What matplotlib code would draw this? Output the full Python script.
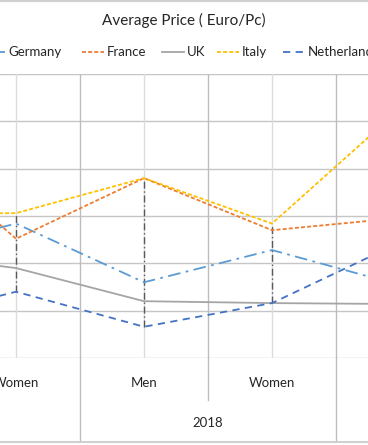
import matplotlib
matplotlib.use("Agg")
import matplotlib.pyplot as plt
from matplotlib.lines import Line2D
from matplotlib.patches import Rectangle

plt.rcParams['font.family'] = ['Lato', 'DejaVu Sans']

# Category sequence (only part of the chart is visible)
categories = ["Men", "Women", "Men", "Women", "Men"]
years = ["2017", "2017", "2018", "2018", "2019"]

# Average price per series (Euro/Pc)
germany = [10.8, 14.2, 8.0, 11.4, 7.7]
france = [24.4, 12.6, 19.0, 13.5, 14.8]
uk = [11.2, 9.5, 6.0, 5.8, 5.7]
italy = [15.2, 15.3, 19.0, 14.2, 26.3]
netherlands = [3.6, 7.0, 3.3, 5.8, 12.2]

series_names = ["Germany", "France", "UK", "Italy", "Netherlands"]
series_data = [germany, france, uk, italy, netherlands]
colors = ["#5B9BD5", "#ED7D31", "#A5A5A5", "#FFC000", "#4472C4"]
styles = [(0, (7, 3, 1.5, 3)), (0, (2.2, 1.2)), "-", (0, (2.2, 1.2)), (0, (4, 3))]

W, H = 368, 445
fig = plt.figure(figsize=(W / 100, H / 100), dpi=100)

# plot area in pixel terms: top 74, bottom 358, full width
ax = fig.add_axes([0, (H - 358) / H, 1, (358 - 74) / H])
ax.set_xlim(0.875, 3.75)
ax.set_ylim(0, 30)

grid_color = "#C6C6C6"
for yv in range(0, 31, 5):
    ax.axhline(yv, color=grid_color, lw=1.0, zorder=1)
# light lines at category centres, darker lines on category boundaries
for i in range(len(categories)):
    ax.axvline(i, color="#DCDCDC", lw=1.0, zorder=1)
    ax.axvline(i + 0.5, color="#BDBDBD", lw=1.0, zorder=1)

x = list(range(len(categories)))
for name, data, c, ls in zip(series_names, series_data, colors, styles):
    ax.plot(x, data, color=c, linestyle=ls, lw=1.3, zorder=3)

# high-low lines
for i in x:
    vals = [d[i] for d in series_data]
    ax.plot([i, i], [min(vals), max(vals)], color="#595959", lw=1.0,
            linestyle=(0, (5, 2, 1, 2)), zorder=2)

for s in ax.spines.values():
    s.set_visible(False)
ax.set_xticks([])
ax.set_yticks([])

# category axis labels (two levels); only the ones inside the crop
trans = ax.get_xaxis_transform()
for i, cat in enumerate(categories):
    if 0.8 <= i <= 3.2:
        ax.text(i, -(383 - 358) / (358 - 74), cat, transform=trans, ha="center",
                va="center", fontsize=9.5, color="#262626", clip_on=False)
ax.text(2.5, -(423 - 358) / (358 - 74), "2018", transform=trans, ha="center",
        va="center", fontsize=9.5, color="#262626", clip_on=False)
for xb, ybot in [(1.5, 440), (2.5, 400), (3.5, 440)]:
    ax.plot([xb, xb], [0, -(ybot - 358) / (358 - 74)], transform=trans,
            color="#BDBDBD", lw=1.0, clip_on=False)

# chart border (cropped at left and right)
fig.add_artist(Rectangle((-0.01, 3 / H), 1.02, (H - 4) / H, transform=fig.transFigure,
                         fill=False, edgecolor="#D0D0D0", lw=1.5))

fig.text(184 / W, 1 - 20 / H, "Average Price ( Euro/Pc)", ha="center", va="center",
         fontsize=11, color="#262626")

# legend, placed by hand
leg_y = 1 - 52 / H
sample_x = [-17, 82, 162, 217, 283]
for name, c, ls, x0 in zip(series_names, colors, styles, sample_x):
    fig.add_artist(Line2D([x0 / W, (x0 + 22) / W], [leg_y, leg_y], color=c,
                          linestyle=ls, lw=1.3, transform=fig.transFigure))
    fig.text((x0 + 25) / W, leg_y, name, ha="left", va="center", fontsize=9.5,
             color="#262626")

fig.savefig("out.png", dpi=100)
